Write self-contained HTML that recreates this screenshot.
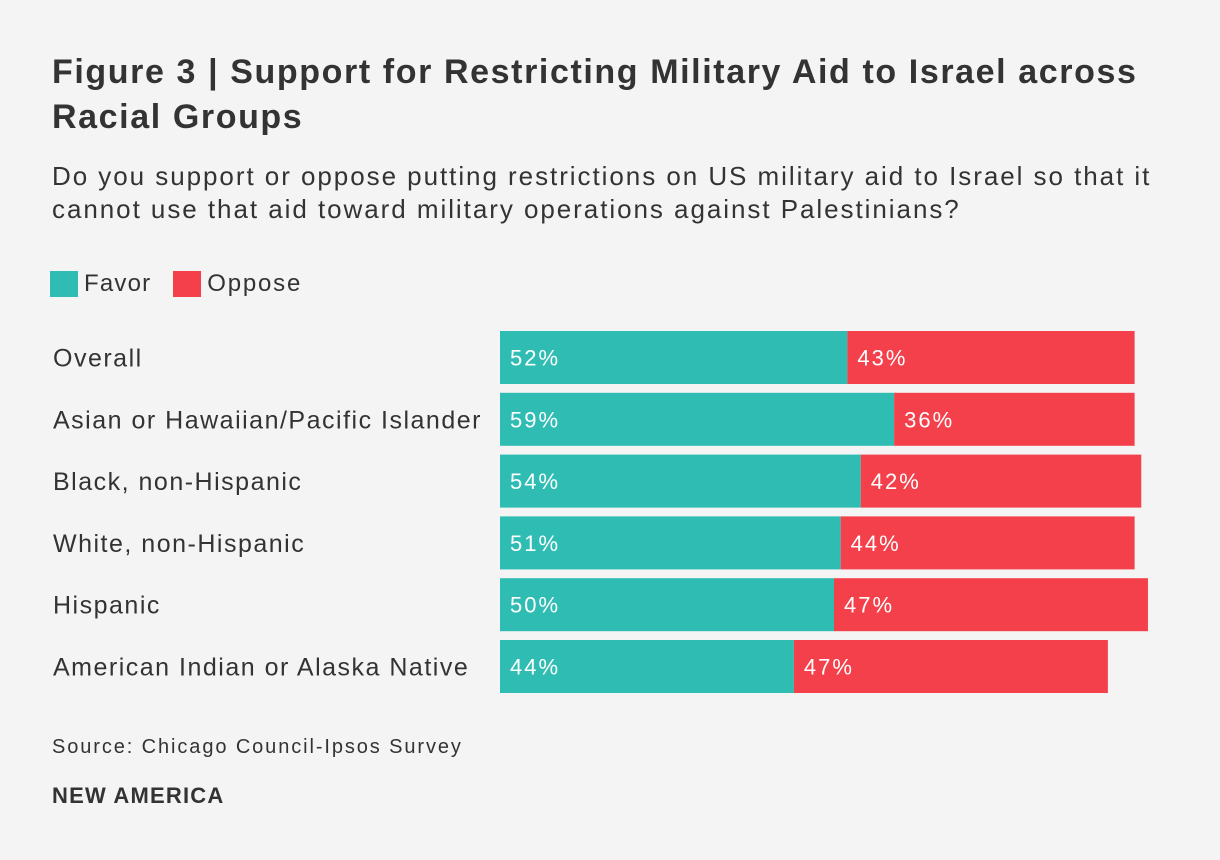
<!DOCTYPE html>
<html><head><meta charset="utf-8"><style>
body{margin:0;width:1220px;height:860px;background:#f4f4f4;font-family:"Liberation Sans",sans-serif;color:#333;position:relative;overflow:hidden}
.abs{position:absolute;white-space:nowrap}
</style></head><body>
<div class="abs" style="left:52px;top:50px;font-size:34px;font-weight:bold;line-height:45px;color:#333;letter-spacing:1.6px">Figure 3 | Support for Restricting Military Aid to Israel across<br>Racial Groups</div>
<div class="abs" style="left:52px;top:160px;font-size:26px;line-height:33px;color:#333;letter-spacing:1.95px">Do you support or oppose putting restrictions on US military aid to Israel so that it<br>cannot use that aid toward military operations against Palestinians?</div>
<div class="abs" style="left:50px;top:268px;font-size:24px;line-height:32px;letter-spacing:1.2px">
<span style="display:inline-block;width:28px;height:26px;background:#2fbdb3;vertical-align:-6px"></span><span style="margin-left:6px">Favor</span>
<span style="display:inline-block;width:28px;height:26px;background:#f4404b;vertical-align:-6px;margin-left:14px"></span><span style="margin-left:6px;letter-spacing:1.8px">Oppose</span>
</div>
<svg id="chart" width="1220" height="860" style="position:absolute;left:0;top:0"></svg>
<div class="abs" style="left:52px;top:736px;font-size:20px;letter-spacing:1.9px">Source: Chicago Council-Ipsos Survey</div>
<div class="abs" style="left:52px;top:783px;font-size:22px;font-weight:bold;letter-spacing:1.2px">NEW AMERICA</div>
<script>
const categories=["Overall","Asian or Hawaiian/Pacific Islander","Black, non-Hispanic","White, non-Hispanic","Hispanic","American Indian or Alaska Native"];
const favor=[52,59,54,51,50,44];
const oppose=[43,36,42,44,47,47];
const svg=document.getElementById('chart');
const NS="http://www.w3.org/2000/svg";
const x0=500,scale=6.68,top0=331,step=61.8,bh=53;
const xs=v=>v*scale;
const ys=i=>top0+i*step;
function mk(t,a){const e=document.createElementNS(NS,t);for(const k in a)e.setAttribute(k,a[k]);svg.appendChild(e);return e;}
categories.forEach((c,i)=>{
  const y=ys(i);
  const lb=mk('text',{x:53,y:y+bh/2+9,'font-size':25,fill:'#333','font-family':'Liberation Sans, sans-serif','letter-spacing':1.5});
  lb.textContent=c;
  
  
  const wf=xs(favor[i]);
  const rf=mk('rect',{x:x0,y:y,width:wf,height:bh,fill:'#2fbdb3'});
  
  
  const ro=mk('rect',{x:x0+wf,y:y,width:xs(oppose[i]),height:bh,fill:'#f4404b'});
  
  
  const tf=mk('text',{x:x0+10,y:y+bh/2+8,'font-size':22,fill:'#fff','font-family':'Liberation Sans, sans-serif','letter-spacing':2});
  tf.textContent=favor[i]+'%';
  
  
  const to=mk('text',{x:x0+wf+10,y:y+bh/2+8,'font-size':22,fill:'#fff','font-family':'Liberation Sans, sans-serif','letter-spacing':2});
  to.textContent=oppose[i]+'%';
  
  
});
</script>
</body></html>
